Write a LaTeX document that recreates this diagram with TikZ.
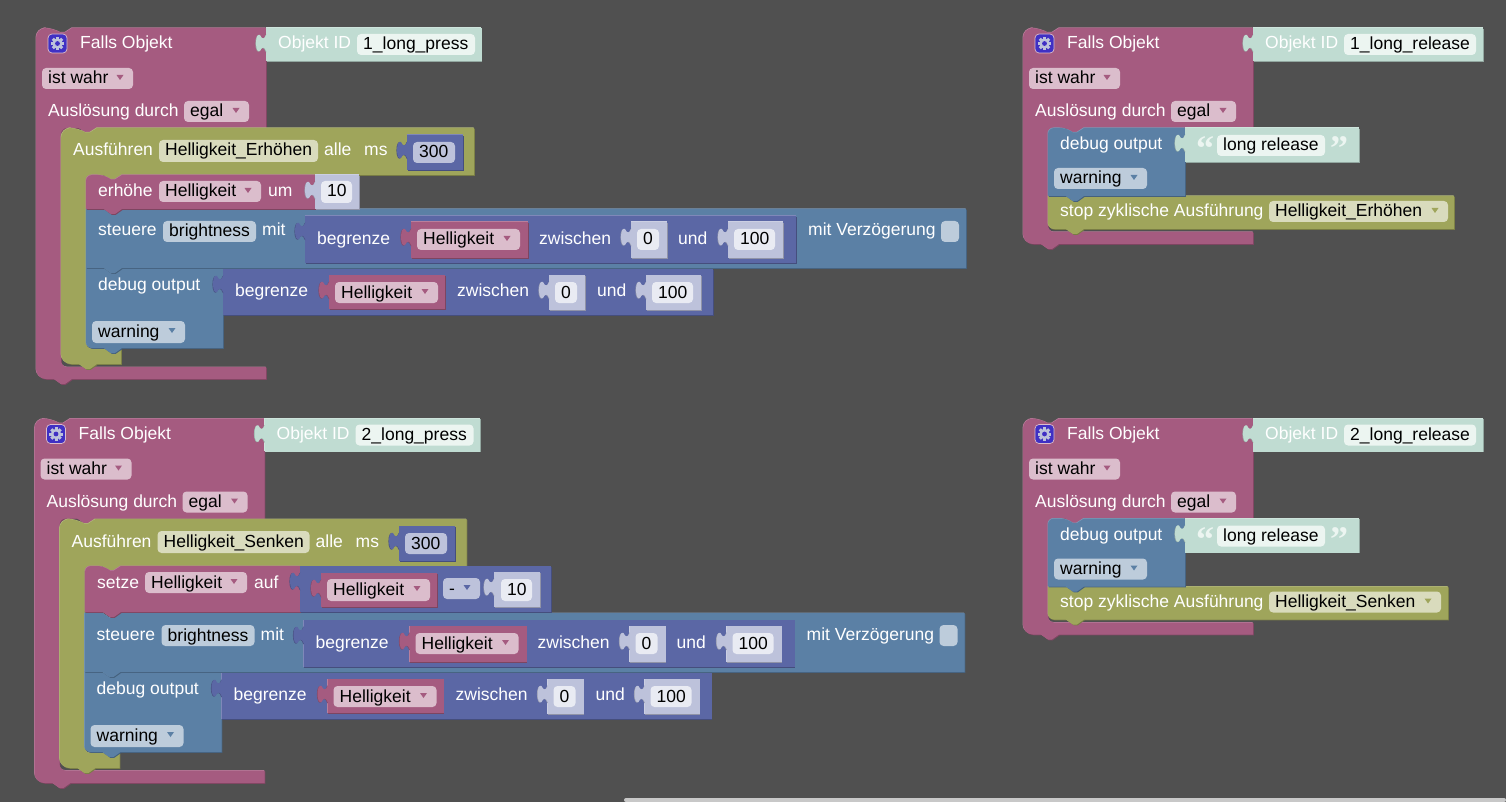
\documentclass[tikz,border=0pt]{standalone}
\usepackage{xcolor}
\usepackage{fontspec}
\usepackage{tikz}
\setmainfont{Liberation Sans}
\newfontfamily\quotefont{Liberation Serif}

\definecolor{canvas}{HTML}{505050}
\definecolor{hatcol}{HTML}{A55B80}
\definecolor{hatfld}{HTML}{DBBDCC}
\definecolor{loopcol}{HTML}{9FA55B}
\definecolor{loopfld}{HTML}{D9DBBD}
\definecolor{iotcol}{HTML}{5B80A5}
\definecolor{iotfld}{HTML}{BDCCDB}
\definecolor{mathcol}{HTML}{5B67A5}
\definecolor{mathfld}{HTML}{BDC2DB}
\definecolor{numfld}{HTML}{E9EBF3}
\definecolor{strcol}{HTML}{C0DCD2}
\definecolor{strfld}{HTML}{ECF5F1}
\definecolor{gearcol}{HTML}{4030C4}
\definecolor{barcol}{HTML}{C8C8C8}

\newcommand{\blockfont}{\fontsize{17.5}{20}\selectfont}
\tikzset{
  lbl/.style={text=white,anchor=base west,inner sep=0pt,font=\blockfont},
  fldtxt/.style={text=black,anchor=base west,inner sep=0pt,font=\blockfont},
  quot/.style={text=strfld,anchor=base west,inner sep=0pt,font=\quotefont\bfseries\fontsize{36}{36}\selectfont}
}

\newcommand{\bevelfill}[2]{
  \fill[#1!76!black,shift={(.8,.8)}] #2;
  \fill[#1!78!white,shift={(-.5,-.5)}] #2;
  \fill[#1] #2;
}
% puzzle tab: x of the block edge, y of the block top, colour
\newcommand{\tabpath}[2]{
  (#1+1,#2+6) -- (#1,#2+7) .. controls (#1-1,#2+11) and (#1-4,#2+12) .. (#1-6,#2+7)
    .. controls (#1-8,#2+5.5) and (#1-10,#2+9) .. (#1-10,#2+15)
    .. controls (#1-10,#2+21) and (#1-8,#2+24.5) .. (#1-6,#2+23)
    .. controls (#1-4,#2+18) and (#1-1,#2+19) .. (#1,#2+23) -- (#1+1,#2+24) -- cycle
}
\newcommand{\ptab}[3]{
  \fill[#3!80!black,shift={(-.6,.4)}] \tabpath{#1}{#2};
  \fill[#3] \tabpath{#1}{#2};
}
% colour, x1, y1, x2, y2, radius top left, radius bottom left
\newcommand{\stackblock}[7]{
  \bevelfill{#1}{(#2,#3+11) [rounded corners=#6pt] -- (#2,#3) -- (#2+18,#3) [sharp corners]
    -- (#2+25,#3+4.5) -- (#2+29,#3+4.5) -- (#2+36,#3) -- (#4,#3) -- (#4,#5) -- (#2+36,#5)
    -- (#2+29,#5+5) -- (#2+25,#5+5) -- (#2+18,#5) [rounded corners=#7pt] -- (#2,#5) -- cycle}
}
% colour, left, top, right, inner top, bar right, arm top, arm right, bottom
\newcommand{\clampblock}[9]{
  \bevelfill{#1}{(#2,#3+24) [rounded corners=10pt] -- (#2,#3) -- (#2+18,#3) [sharp corners]
    -- (#2+25,#3+4.5) -- (#2+29,#3+4.5) -- (#2+36,#3) -- (#4,#3) -- (#4,#5) -- (#6+36,#5)
    -- (#6+29,#5+5) -- (#6+25,#5+5) -- (#6+18,#5) [rounded corners=6pt] -- (#6,#5) -- (#6,#7)
    [sharp corners] -- (#8,#7) -- (#8,#9) -- (#2+36,#9) -- (#2+29,#9+5) -- (#2+25,#9+5)
    -- (#2+18,#9) [rounded corners=10pt] -- (#2,#9) -- cycle}
}
\newcommand{\valueblock}[5]{
  \bevelfill{#1}{(#2,#3) rectangle (#4,#5)}
  \ptab{#2}{#3}{#1}
}
% name, colour, x1, y1, x2, y2, text
\newcommand{\fieldbox}[7]{
  \fill[#2,rounded corners=4pt] (#3,#4) rectangle (#5,#6);
  \node (#1) [fldtxt] at (#3+6,#4+16) {#7};
}
% name, colour, triangle colour, x1, y1, x2, y2, text
\newcommand{\dropbox}[8]{
  \fieldbox{#1}{#2}{#4}{#5}{#6}{#7}{#8}
  \fill[#3] (#6-16.5,#5+7) -- (#6-9.5,#5+7) -- (#6-13,#5+12) -- cycle;
}
% head of the trigger block: prefix, object id, field right, block right
\newcommand{\fallshead}[4]{
  \fill[gearcol,draw=hatfld,line width=.7pt,rounded corners=4pt] (48,34) rectangle (67,53);
  \foreach \a in {0,45,...,315}
    \fill[mathfld,rotate around={\a:(57.5,43.5)}] (56,36.8) rectangle (59,41);
  \fill[mathfld] (57.5,43.5) circle (5.2);
  \fill[gearcol] (57.5,43.5) circle (2.4);
  \node (#1falls) [lbl] at (80,49) {Falls Objekt};
  \dropbox{#1wahr}{hatfld}{hatcol}{42}{68}{133}{89}{ist wahr}
  \node (#1ausl) [lbl] at (48,117) {Auslösung durch};
  \dropbox{#1egal}{hatfld}{hatcol}{184}{101}{249}{122}{egal}
  \valueblock{strcol}{266}{28}{#4}{61}
  \node (#1objid) [lbl] at (278,49) {Objekt ID};
  \fieldbox{#1id}{strfld}{357}{34}{#3}{55}{#2}
}
% the two lower rows of a loop body
\newcommand{\loopbody}[1]{
  \stackblock{iotcol}{86}{268}{223}{348}{0}{6}
  \valueblock{mathcol}{223}{269}{713}{315}
  \node (#1begb) [lbl] at (235,296) {begrenze};
  \valueblock{hatcol}{329}{275}{445}{309}
  \dropbox{#1helb}{hatfld}{hatcol}{335}{282}{438}{303}{Helligkeit}
  \node (#1zwb) [lbl] at (457,296) {zwischen};
  \valueblock{mathfld}{549}{275}{585}{310}
  \fieldbox{#1nullb}{numfld}{555}{282}{577}{303}{0}
  \node (#1undb) [lbl] at (597,296) {und};
  \valueblock{mathfld}{646}{275}{701}{310}
  \fieldbox{#1hundb}{numfld}{652}{282}{693}{303}{100}
  \node (#1dbg) [lbl] at (98,290) {debug output};
  \dropbox{#1warn}{iotfld}{iotcol}{92}{321}{185}{343}{warning}
  \stackblock{iotcol}{86}{209}{966}{268}{0}{0}
  \node (#1steu) [lbl] at (98,236) {steuere};
  \fieldbox{#1bright}{iotfld}{163}{221}{256}{242}{brightness}
  \node (#1mit) [lbl] at (262,236) {mit};
  \valueblock{mathcol}{305}{216}{796}{263}
  \node (#1bega) [lbl] at (317,244) {begrenze};
  \valueblock{hatcol}{411}{222}{528}{258}
  \dropbox{#1hela}{hatfld}{hatcol}{417}{229}{520}{250}{Helligkeit}
  \node (#1zwa) [lbl] at (539,244) {zwischen};
  \valueblock{mathfld}{631}{222}{667}{258}
  \fieldbox{#1nulla}{numfld}{637}{229}{659}{250}{0}
  \node (#1unda) [lbl] at (678,244) {und};
  \valueblock{mathfld}{728}{222}{783}{258}
  \fieldbox{#1hunda}{numfld}{734}{229}{775}{250}{100}
  \node (#1verz) [lbl] at (808,236) {mit Verzögerung};
  \fill[iotfld,rounded corners=4pt] (941,221) rectangle (959,242);
}
% inner blocks of the release triggers
\newcommand{\releasebody}[4]{
  \stackblock{loopcol}{61}{196}{#3}{229}{0}{6}
  \node (#1stop) [lbl] at (73,217) {stop zyklische Ausführung};
  \dropbox{#1var}{loopfld}{loopcol}{282}{201}{#4}{222}{#2}
  \stackblock{iotcol}{61}{128}{198}{196}{6}{0}
  \node (#1dbg) [lbl] at (73,150) {debug output};
  \dropbox{#1warn}{iotfld}{iotcol}{67}{168}{160}{189}{warning}
  \valueblock{strcol}{198}{128}{372}{162}
  \node (#1qo) [quot] at (209,161) {“};
  \fieldbox{#1str}{strfld}{230}{135}{338}{156}{long release}
  \node (#1qc) [quot] at (343,161) {”};
}

\begin{document}
\begin{tikzpicture}[x=1pt,y=-1pt]
\useasboundingbox (0,0) rectangle (1506,802);
\fill[canvas] (0,0) rectangle (1506,802);
\fill[barcol,rounded corners=2pt] (624,802) -- (624,798) -- (1506,798) -- (1506,802) -- cycle;

% long press 1
\clampblock{hatcol}{36}{28}{266}{128}{61}{367}{266}{379}
\fallshead{a}{1\_long\_press}{475}{481.5}
\clampblock{loopcol}{61}{128}{474}{175}{86}{349}{121}{364}
\node (aausf) [lbl] at (73,156) {Ausführen};
\fieldbox{aloop}{loopfld}{159}{140}{318}{162}{Helligkeit\_Erhöhen}
\node (aalle) [lbl] at (324,156) {alle};
\node (ams) [lbl] at (364,156) {ms};
\valueblock{mathcol}{407}{135}{463}{170}
\fieldbox{ams300}{mathfld}{413}{142}{455}{163}{300}
\loopbody{a}
\stackblock{hatcol}{86}{175}{315}{209}{6}{0}
\node (aerh) [lbl] at (98,197) {erhöhe};
\dropbox{ahell}{hatfld}{hatcol}{159}{181}{261}{202}{Helligkeit}
\node (aum) [lbl] at (268,197) {um};
\valueblock{mathfld}{315}{175}{359}{209}
\fieldbox{azehn}{numfld}{321}{181}{352}{203}{10}

% long press 2
\begin{scope}[shift={(-1.5,390.5)}]
\clampblock{hatcol}{36}{28}{266}{128}{61}{380}{266}{392.5}
\fallshead{b}{2\_long\_press}{475}{481.5}
\end{scope}
\begin{scope}[shift={(-1.5,391)}]
\clampblock{loopcol}{61}{128}{468}{175}{86}{362}{121}{377}
\node (bausf) [lbl] at (73,156) {Ausführen};
\fieldbox{bloop}{loopfld}{159}{140}{311}{162}{Helligkeit\_Senken}
\node (balle) [lbl] at (317,156) {alle};
\node (bms) [lbl] at (357,156) {ms};
\valueblock{mathcol}{400.5}{135}{456.5}{170}
\fieldbox{bms300}{mathfld}{406.5}{142}{448.5}{163}{300}
\end{scope}
\begin{scope}[shift={(-1.5,404)}]
\loopbody{b}
\end{scope}
\begin{scope}[shift={(-1,391)}]
\stackblock{hatcol}{86}{175}{301}{221}{6}{0}
\node (bsetz) [lbl] at (98,197) {setze};
\dropbox{bhell}{hatfld}{hatcol}{146}{181}{248}{202}{Helligkeit}
\node (bauf) [lbl] at (255,197) {auf};
\valueblock{mathcol}{301}{175}{552}{221}
\valueblock{hatcol}{322}{182}{438}{216}
\dropbox{bhelm}{hatfld}{hatcol}{328}{188}{431}{210}{Helligkeit}
\dropbox{bminus}{mathfld}{mathcol}{444}{187}{481}{208}{-}
\valueblock{mathfld}{495}{181}{541}{216}
\fieldbox{bzehn}{numfld}{502}{188}{533}{210}{10}
\end{scope}

% long release 1
\begin{scope}[shift={(987,0)}]
\clampblock{hatcol}{36}{28}{266}{128}{61}{232}{266}{244}
\fallshead{c}{1\_long\_release}{489}{496}
\releasebody{c}{Helligkeit\_Erhöhen}{467}{461}
\end{scope}

% long release 2
\begin{scope}[shift={(987,390.5)}]
\clampblock{hatcol}{36}{28}{266}{128}{61}{232}{266}{244}
\fallshead{d}{2\_long\_release}{489}{496}
\releasebody{d}{Helligkeit\_Senken}{461}{454}
\end{scope}
\end{tikzpicture}
\end{document}
